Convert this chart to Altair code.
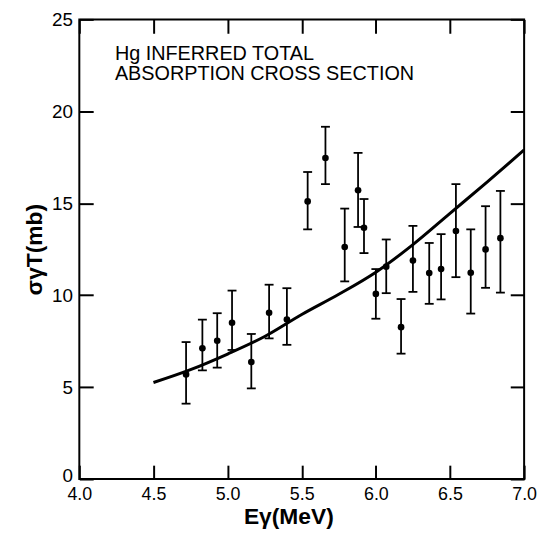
import altair as alt
import pandas as pd

# measured points (E in MeV, sigma in mb) with error bar ends
energy = [4.72, 4.83, 4.93, 5.03, 5.16, 5.28, 5.40, 5.54, 5.66, 5.79, 5.88,
          5.92, 6.00, 6.07, 6.17, 6.25, 6.36, 6.44, 6.54, 6.64, 6.74, 6.84]
sigma = [5.69, 7.11, 7.52, 8.50, 6.36, 9.04, 8.68, 15.10, 17.46, 12.62, 15.71,
         13.67, 10.07, 11.55, 8.26, 11.88, 11.20, 11.42, 13.49, 11.22, 12.49, 13.10]
err_hi = [7.45, 8.67, 9.02, 10.25, 7.89, 10.57, 10.38, 16.70, 19.16, 14.71, 17.74,
          15.23, 11.42, 13.03, 9.79, 13.77, 12.84, 13.32, 16.04, 13.58, 14.84, 15.67]
err_lo = [4.10, 5.91, 6.06, 7.02, 4.93, 7.65, 7.30, 13.58, 16.04, 10.75, 13.71,
          12.29, 8.72, 10.11, 6.82, 10.18, 9.53, 9.77, 10.98, 9.00, 10.40, 10.14]

# smooth curve
curve_e = [4.5, 4.75, 5.0, 5.25, 5.5, 5.75, 6.0, 6.25, 6.5, 6.75, 7.0]
curve_s = [5.25, 5.95, 6.8, 7.75, 8.95, 10.05, 11.25, 12.75, 14.45, 16.15, 17.9]

# annotation
note_lines = ["Hg INFERRED TOTAL", "ABSORPTION CROSS SECTION"]
note_x = [4.24, 4.24]
note_y = [22.8, 21.7]

x_ticks = [4.0, 4.5, 5.0, 5.5, 6.0, 6.5, 7.0]
y_ticks = [0, 5, 10, 15, 20, 25]

pts = pd.DataFrame({"E": energy, "s": sigma, "lo": err_lo, "hi": err_hi})
crv = pd.DataFrame({"E": curve_e, "s": curve_s})
notes = pd.DataFrame({"t": note_lines, "x": note_x, "y": note_y})

FONT = "Liberation Sans"
xscale = alt.Scale(domain=[4, 7], nice=False, zero=False)
yscale = alt.Scale(domain=[0, 25], nice=False)

TICK = 14

x_bottom = alt.Axis(values=x_ticks, format=".1f", title="Eγ(MeV)", grid=False,
                    domain=False, offset=-TICK, tickSize=TICK, tickWidth=2,
                    tickColor="black", labelFont=FONT, labelFontSize=18,
                    labelColor="black", labelPadding=7, labelFlush=False,
                    labelOverlap=False, titleFont=FONT,
                    titleFontSize=23, titleFontWeight="bold", titleColor="black",
                    titlePadding=2, titleX=211)
y_left = alt.Axis(values=y_ticks, title="σγT(mb)", grid=False, domain=False,
                  offset=-TICK, tickSize=TICK, tickWidth=2, tickColor="black",
                  labelFont=FONT, labelFontSize=19, labelColor="black",
                  labelPadding=7, labelFlush=False, labelOverlap=False,
                  labelOffset={"condition": {"test": "datum.value === 0", "value": -4},
                               "value": 0},
                  titleFont=FONT, titleFontSize=23,
                  titleFontWeight="bold", titleColor="black", titlePadding=5)
x_top = alt.Axis(values=x_ticks, orient="top", title=None, labels=False,
                 grid=False, domain=False, offset=-TICK, tickSize=TICK,
                 tickWidth=2, tickColor="black")
y_right = alt.Axis(values=y_ticks, orient="right", title=None, labels=False,
                   grid=False, domain=False, offset=-TICK, tickSize=TICK,
                   tickWidth=2, tickColor="black")

points = alt.Chart(pts).mark_circle(color="black", size=45, opacity=1).encode(
    x=alt.X("E:Q", scale=xscale, axis=x_bottom),
    y=alt.Y("s:Q", scale=yscale, axis=y_left),
)
line = alt.Chart(crv).mark_line(color="black", strokeWidth=3,
                                interpolate="monotone").encode(
    x=alt.X("E:Q", scale=xscale, axis=x_top),
    y=alt.Y("s:Q", scale=yscale, axis=y_right),
)
bars = alt.Chart(pts).mark_rule(color="black", strokeWidth=1.8).encode(
    x=alt.X("E:Q", scale=xscale, axis=None),
    y=alt.Y("lo:Q", scale=yscale, axis=None),
    y2="hi:Q",
)
cap_lo = alt.Chart(pts).mark_tick(color="black", orient="horizontal", size=9,
                                  thickness=1.8, opacity=1).encode(
    x=alt.X("E:Q", scale=xscale, axis=None),
    y=alt.Y("lo:Q", scale=yscale, axis=None),
)
cap_hi = alt.Chart(pts).mark_tick(color="black", orient="horizontal", size=9,
                                  thickness=1.8, opacity=1).encode(
    x=alt.X("E:Q", scale=xscale, axis=None),
    y=alt.Y("hi:Q", scale=yscale, axis=None),
)
text = alt.Chart(notes).mark_text(font=FONT, fontSize=20, align="left",
                                  baseline="alphabetic", color="black").encode(
    x=alt.X("x:Q", scale=xscale, axis=None),
    y=alt.Y("y:Q", scale=yscale, axis=None),
    text="t:N",
)

chart = alt.layer(points, line, bars, cap_lo, cap_hi, text).resolve_axis(
    x="independent", y="independent"
).properties(
    width=449, height=464,
    autosize=alt.AutoSizeParams(type="none"),
    padding={"left": 72, "top": 9, "right": 13, "bottom": 56},
).configure_view(stroke="black", strokeWidth=2)

chart.save("out.html", embed_options={"renderer": "svg", "actions": False})
